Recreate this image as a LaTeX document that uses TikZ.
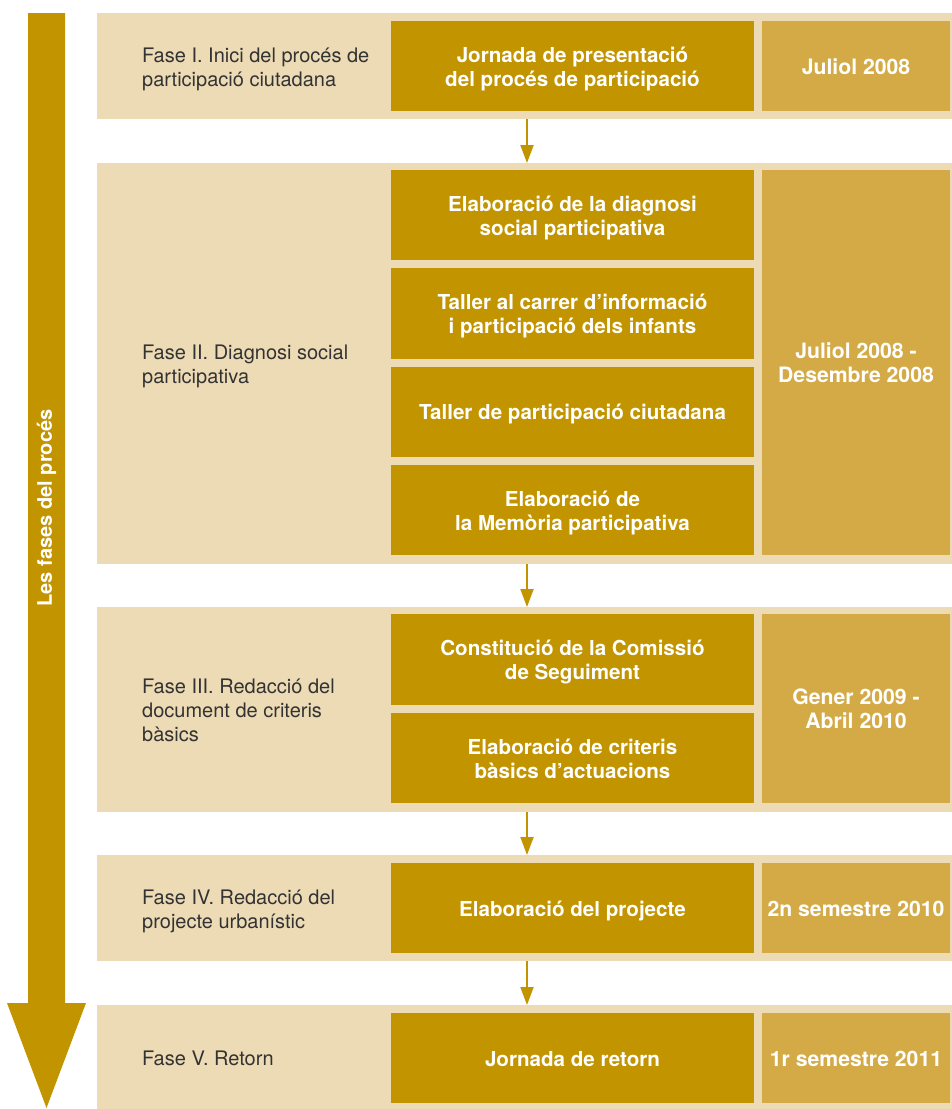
\documentclass[tikz,border=0pt]{standalone}
\usepackage{fontspec}
\setmainfont{TeX Gyre Heros}
\usetikzlibrary{arrows.meta}
\definecolor{bandcol}{HTML}{EDDBB5}
\definecolor{goldcol}{HTML}{C29400}
\definecolor{datecol}{HTML}{D3AA46}
\definecolor{labelcol}{HTML}{333333}
\newcommand\mytop{\rule{0pt}{21.6pt}}
\newcommand\mybot{\rule[-5pt]{0pt}{5pt}}
\begin{document}
\begin{tikzpicture}[x=1pt,y=-1pt,
  bandbox/.style={fill=bandcol, draw=none, inner sep=0pt, minimum width=855pt, anchor=north west},
  taskbox/.style={fill=goldcol, draw=none, inner sep=0pt, minimum width=363pt, text=white,
    align=center, font=\fontsize{20.6}{24}\selectfont\bfseries},
  datebox/.style={fill=datecol, draw=none, inner sep=0pt, minimum width=188pt, text=white,
    align=center, font=\fontsize{21.2}{24}\selectfont\bfseries},
  phaselabel/.style={anchor=west, inner sep=0pt, align=left, text=labelcol,
    font=\fontsize{20}{24}\selectfont},
  flowarrow/.style={draw=goldcol, line width=2pt, -{Triangle[width=13pt,length=18pt]}}
]
\useasboundingbox (0,0) rectangle (952,1109);

% big arrow on the left
\fill[goldcol] (28,13) -- (65,13) -- (65,1003) -- (86,1003) -- (46.5,1108) -- (7,1003) -- (28,1003) -- cycle;
\node[rotate=90, text=white, inner sep=0pt, font=\fontsize{20}{24}\selectfont\bfseries] (side) at (46.5,508) {Les fases del procés};

% bands
\node[bandbox, minimum height=106pt] (band1) at (97,13) {};
\node[bandbox, minimum height=401pt] (band2) at (97,163) {};
\node[bandbox, minimum height=205pt] (band3) at (97,607) {};
\node[bandbox, minimum height=106pt] (band4) at (97,855) {};
\node[bandbox, minimum height=104pt] (band5) at (97,1005) {};

% phase labels
\node[phaselabel] (l1) at (142,66) {\mytop Fase I. Inici del procés de\\participació ciutadana\mybot};
\node[phaselabel] (l2) at (142,363.5) {\mytop Fase II. Diagnosi social\\participativa\mybot};
\node[phaselabel] (l3) at (142,709.5) {\mytop Fase III. Redacció del\\document de criteris\\bàsics\mybot};
\node[phaselabel] (l4) at (142,908) {\mytop Fase IV. Redacció del\\projecte urbanístic\mybot};
\node[phaselabel] (l5) at (142,1057) {\mytop Fase V. Retorn\mybot};

% task boxes
\node[taskbox, minimum height=90pt] (t1) at (572.5,66) {\mytop Jornada de presentació\\del procés de participació\mybot};
\node[taskbox, minimum height=90.25pt] (t2) at (572.5,215.125) {\mytop Elaboració de la diagnosi\\social participativa\mybot};
\node[taskbox, minimum height=90.25pt] (t3) at (572.5,313.375) {\mytop Taller al carrer d’informació\\i participació dels infants\mybot};
\node[taskbox, minimum height=90.25pt] (t4) at (572.5,411.625) {\mytop Taller de participació ciutadana\mybot};
\node[taskbox, minimum height=90.25pt] (t5) at (572.5,509.875) {\mytop Elaboració de\\la Memòria participativa\mybot};
\node[taskbox, minimum height=90.5pt] (t6) at (572.5,659.25) {\mytop Constitució de la Comissió\\de Seguiment\mybot};
\node[taskbox, minimum height=90.5pt] (t7) at (572.5,757.75) {\mytop Elaboració de criteris\\bàsics d’actuacions\mybot};
\node[taskbox, minimum height=90pt] (t8) at (572.5,908) {\mytop Elaboració del projecte\mybot};
\node[taskbox, minimum height=90pt] (t9) at (572.5,1058) {\mytop Jornada de retorn\mybot};

% date boxes
\node[datebox, minimum height=90pt] (d1) at (856,66) {\mytop Juliol 2008\mybot};
\node[datebox, minimum height=385pt] (d2) at (856,362.5) {\mytop Juliol 2008 -\\Desembre 2008\mybot};
\node[datebox, minimum height=189pt] (d3) at (856,708.5) {\mytop Gener 2009 -\\Abril 2010\mybot};
\node[datebox, minimum height=90pt] (d4) at (856,908) {\mytop 2n semestre 2010\mybot};
\node[datebox, minimum height=90pt] (d5) at (856,1058) {\mytop 1r semestre 2011\mybot};

% connectors between phases
\coordinate (ax) at (527,0);
\draw[flowarrow] (band1.south -| ax) -- (band2.north -| ax);
\draw[flowarrow] (band2.south -| ax) -- (band3.north -| ax);
\draw[flowarrow] (band3.south -| ax) -- (band4.north -| ax);
\draw[flowarrow] (band4.south -| ax) -- (band5.north -| ax);
\end{tikzpicture}
\end{document}
